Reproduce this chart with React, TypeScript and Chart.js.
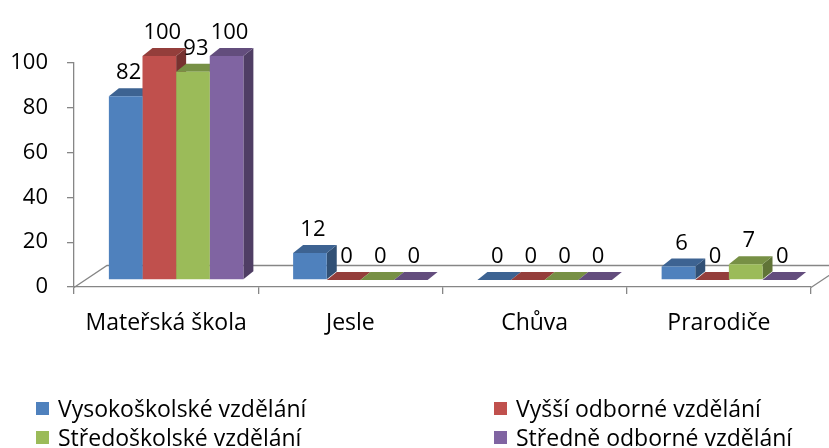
import React, { useEffect, useRef } from 'react';
import { Chart, registerables } from 'chart.js';

Chart.register(...registerables);

const categories = ['Mateřská škola', 'Jesle', 'Chůva', 'Prarodiče'];
const seriesNames = [
  'Vysokoškolské vzdělání',
  'Vyšší odborné vzdělání',
  'Středoškolské vzdělání',
  'Středně odborné vzdělání',
];
const vysokoskolske = [82, 12, 0, 6];
const vyssiOdborne = [100, 0, 0, 0];
const stredoskolske = [93, 0, 0, 7];
const stredneOdborne = [100, 0, 0, 0];
const seriesValues = [vysokoskolske, vyssiOdborne, stredoskolske, stredneOdborne];
const seriesColors = ['#4F81BD', '#C0504D', '#9BBB59', '#8064A2'];
const yMin = 0;
const yMax = 100;
const yStep = 20;

const FONT = "'Open Sans', sans-serif";
const AXIS_GRAY = '#868686';

const FLOOR_DX = 33;
const FLOOR_DY = -22;
const SHIFT_X = 10;
const SHIFT_Y = -7;
const DEPTH_X = 10;
const DEPTH_Y = -8;

function shade(hex: string, f: number): string {
  const n = parseInt(hex.slice(1), 16);
  const r = Math.round(((n >> 16) & 255) * f);
  const g = Math.round(((n >> 8) & 255) * f);
  const b = Math.round((n & 255) * f);
  return `rgb(${r},${g},${b})`;
}

const bar3dPlugin = {
  id: 'bar3d',
  beforeDatasetsDraw(chart: any) {
    const { ctx, chartArea } = chart;
    const { left, right, bottom } = chartArea;
    ctx.save();
    ctx.beginPath();
    ctx.moveTo(left, bottom + 0.5);
    ctx.lineTo(left + FLOOR_DX, bottom + FLOOR_DY + 0.5);
    ctx.lineTo(right + FLOOR_DX, bottom + FLOOR_DY + 0.5);
    ctx.lineTo(right, bottom + 0.5);
    ctx.strokeStyle = AXIS_GRAY;
    ctx.lineWidth = 1.3;
    ctx.stroke();
    ctx.restore();

    ctx.save();
    ctx.translate(SHIFT_X, SHIFT_Y);
    const n = chart.data.labels.length;
    const dsCount = chart.data.datasets.length;
    for (let k = 0; k < n; k++) {
      for (let d = 0; d < dsCount; d++) {
        const el: any = chart.getDatasetMeta(d).data[k];
        if (!el) continue;
        const { x, y, base, width } = el;
        const l = x - width / 2;
        const r = x + width / 2;
        const col = seriesColors[d];
        ctx.fillStyle = shade(col, 0.62);
        ctx.beginPath();
        ctx.moveTo(r, base);
        ctx.lineTo(r + DEPTH_X, base + DEPTH_Y);
        ctx.lineTo(r + DEPTH_X, y + DEPTH_Y);
        ctx.lineTo(r, y);
        ctx.closePath();
        ctx.fill();
        ctx.fillStyle = shade(col, 0.77);
        ctx.beginPath();
        ctx.moveTo(l, y);
        ctx.lineTo(l + DEPTH_X, y + DEPTH_Y);
        ctx.lineTo(r + DEPTH_X, y + DEPTH_Y);
        ctx.lineTo(r, y);
        ctx.closePath();
        ctx.fill();
      }
    }
  },
  afterDatasetsDraw(chart: any) {
    const { ctx } = chart;
    const n = chart.data.labels.length;
    const dsCount = chart.data.datasets.length;
    ctx.fillStyle = '#000';
    ctx.font = `22px ${FONT}`;
    ctx.textAlign = 'center';
    ctx.textBaseline = 'alphabetic';
    for (let k = 0; k < n; k++) {
      for (let d = 0; d < dsCount; d++) {
        const el: any = chart.getDatasetMeta(d).data[k];
        if (!el) continue;
        const v = chart.data.datasets[d].data[k];
        ctx.fillText(String(v), el.x + 3, el.y - 17);
      }
    }
    ctx.restore();
  },
};

const legendPlugin = {
  id: 'gridLegend',
  afterDraw(chart: any) {
    const { ctx } = chart;
    const cols = [36, 494];
    const rows = [417, 446];
    ctx.save();
    ctx.font = `23px ${FONT}`;
    ctx.textAlign = 'left';
    ctx.textBaseline = 'alphabetic';
    chart.data.datasets.forEach((ds: any, i: number) => {
      const cx = cols[i % 2];
      const by = rows[Math.floor(i / 2)];
      ctx.fillStyle = ds.backgroundColor;
      ctx.fillRect(cx, by - 15, 13, 13);
      ctx.fillStyle = '#000';
      ctx.fillText(ds.label, cx + 22, by);
    });
    ctx.restore();
  },
};

export default function App() {
  const canvasRef = useRef<HTMLCanvasElement | null>(null);

  useEffect(() => {
    document.body.style.margin = '0';
    const canvas = canvasRef.current;
    if (!canvas) return;
    const chart = new Chart(canvas, {
      type: 'bar',
      data: {
        labels: categories,
        datasets: seriesNames.map((name, i) => ({
          label: name,
          data: seriesValues[i],
          backgroundColor: seriesColors[i],
          borderWidth: 0,
          categoryPercentage: 0.73,
          barPercentage: 1.0,
          clip: false as any,
        })),
      },
      options: {
        responsive: false,
        devicePixelRatio: 1,
        animation: false,
        events: [],
        layout: { padding: { top: 63, right: 18, left: 0, bottom: 0 } },
        plugins: {
          legend: { display: false },
          tooltip: { enabled: false },
          title: { display: false },
        },
        scales: {
          x: {
            offset: true,
            grid: {
              offset: true,
              drawOnChartArea: false,
              tickLength: 7,
              color: AXIS_GRAY,
              lineWidth: 1.3,
            },
            border: { color: AXIS_GRAY, width: 1.3 },
            ticks: {
              color: '#000',
              padding: 16,
              font: { family: FONT, size: 23 },
              maxRotation: 0,
            },
            afterFit(scale: any) {
              scale.height = 448 - 287;
            },
          },
          y: {
            min: yMin,
            max: yMax,
            grid: {
              drawOnChartArea: false,
              tickLength: 7,
              color: AXIS_GRAY,
              lineWidth: 1.3,
            },
            border: { color: AXIS_GRAY, width: 1.3 },
            ticks: {
              stepSize: yStep,
              color: '#000',
              padding: 19,
              font: { family: FONT, size: 22 },
            },
            afterFit(scale: any) {
              scale.width = 74;
            },
          },
        },
      },
      plugins: [bar3dPlugin, legendPlugin],
    });
    return () => chart.destroy();
  }, []);

  return (
    <div style={{ position: 'relative', width: 829, height: 448 }}>
      <canvas ref={canvasRef} width={829} height={448} style={{ display: 'block' }} />
    </div>
  );
}
